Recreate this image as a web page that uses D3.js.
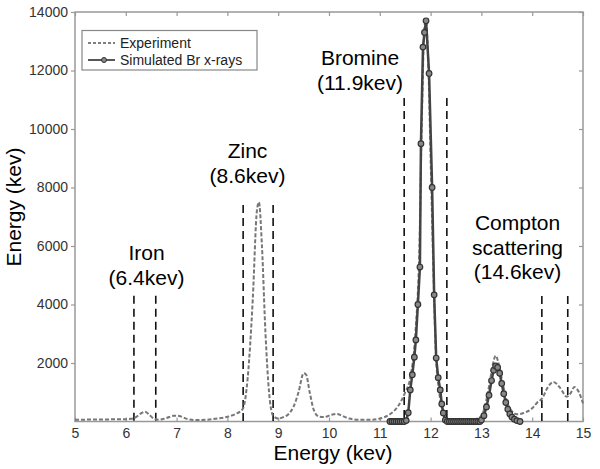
<!DOCTYPE html>
<html>
<head>
<meta charset="utf-8">
<script src="https://d3js.org/d3.v7.min.js"></script>
<style>
  body { margin: 0; background: #fff; }
  svg { font-family: "Liberation Sans", Arial, sans-serif; }
</style>
</head>
<body>
<svg width="600" height="469"></svg>
<script>
// measured spectrum (dashed)
var expX = [5.0, 5.5, 6.0, 6.1, 6.2, 6.3, 6.38, 6.45, 6.55, 6.65, 6.8, 6.95, 7.05, 7.2, 7.4, 7.6, 7.8, 8.0, 8.15, 8.3,
  8.4, 8.5, 8.58, 8.62, 8.68, 8.75, 8.82, 8.9, 9.0, 9.1, 9.2, 9.3, 9.4, 9.5, 9.55, 9.62, 9.7, 9.8, 9.9, 10.05,
  10.15, 10.25, 10.4, 10.6, 10.8, 11.0, 11.2, 11.35, 11.5, 11.6, 11.7, 11.78, 11.83, 11.88, 11.91, 11.95, 12.0, 12.05, 12.1, 12.17,
  12.25, 12.32, 12.5, 12.8, 12.95, 13.05, 13.15, 13.22, 13.28, 13.35, 13.42, 13.5, 13.6, 13.7, 13.85, 14.0, 14.1, 14.2, 14.3, 14.42,
  14.55, 14.68, 14.75, 14.83, 14.92, 15.0];
var expY = [60, 70, 80, 90, 150, 280, 330, 250, 100, 60, 120, 200, 190, 90, 50, 60, 100, 160, 250, 420,
  1500, 4200, 7200, 7500, 6000, 3000, 1000, 200, 100, 150, 250, 500, 1000, 1650, 1600, 1000, 400, 170, 150, 230,
  260, 200, 100, 60, 60, 100, 250, 500, 1000, 1500, 3000, 6000, 10500, 13500, 13700, 12500, 9000, 5500, 2500, 1000,
  300, 100, 50, 60, 120, 400, 1200, 1900, 2250, 1900, 1300, 700, 350, 250, 300, 450, 650, 800, 1150, 1350,
  1150, 850, 950, 1180, 1000, 620];

// simulated Br x-rays (solid with circles)
var simX = [11.2, 11.24, 11.28, 11.32, 11.36, 11.4, 11.44, 11.48, 11.52, 11.56, 11.6, 11.64, 11.68, 11.71, 11.75, 11.79, 11.81, 11.85, 11.88, 11.91,
  11.97, 12.03, 12.07, 12.11, 12.15, 12.19, 12.22, 12.25, 12.29, 12.33, 12.37, 12.41, 12.45, 12.49, 12.53, 12.57, 12.61, 12.65, 12.69, 12.73,
  12.77, 12.81, 12.85, 12.89, 12.93, 12.97, 13.0, 13.05, 13.1, 13.15, 13.2, 13.24, 13.28, 13.32, 13.36, 13.4, 13.44, 13.48, 13.52, 13.56,
  13.6, 13.65, 13.7, 13.76];
var simY = [0, 0, 0, 0, 0, 0, 0, 0, 30, 300, 1080, 1600, 2200, 2790, 4000, 5280, 9500, 12800, 13300, 13700,
  11900, 8000, 4330, 2170, 1500, 1080, 600, 290, 50, 0, 0, 0, 0, 0, 0, 0, 0, 0, 0, 0,
  0, 0, 0, 0, 0, 0, 50, 200, 500, 900, 1400, 1750, 1900, 1850, 1650, 1300, 950, 650, 420, 260,
  150, 80, 30, 0];

// window markers and labels
var windows = [
  {lo: 6.16, hi: 6.59, top: 4300, x: 146.5, lines: ["Iron", "(6.4kev)"], y0: 260},
  {lo: 8.31, hi: 8.90, top: 7400, x: 247.5, lines: ["Zinc", "(8.6kev)"], y0: 158},
  {lo: 11.48, hi: 12.32, top: 11060, x: 360, lines: ["Bromine", "(11.9kev)"], y0: 65},
  {lo: 14.19, hi: 14.70, top: 4290, x: 517.5, lines: ["Compton", "scattering", "(14.6kev)"], y0: 230}
];

var xTicks = [5, 6, 7, 8, 9, 10, 11, 12, 13, 14, 15];
var yTicks = [2000, 4000, 6000, 8000, 10000, 12000, 14000];

var svg = d3.select("svg");
var pLeft = 75, pRight = 583, pTop = 12, pBottom = 421.5;

var x = d3.scaleLinear().domain([5, 15]).range([pLeft, pRight]);
var y = d3.scaleLinear().domain([0, 14000]).range([pBottom, pTop]);

svg.append("rect").attr("width", 600).attr("height", 469).attr("fill", "#fff");

// frame + ticks
var axisCol = "#999";
svg.append("rect")
    .attr("x", pLeft).attr("y", pTop)
    .attr("width", pRight - pLeft).attr("height", pBottom - pTop)
    .attr("fill", "none").attr("stroke", axisCol).attr("stroke-width", 1.5);

var gx = svg.append("g").attr("transform", "translate(0," + pBottom + ")")
    .call(d3.axisBottom(x).tickValues(xTicks).tickSize(-4).tickPadding(7));
var gxt = svg.append("g").attr("transform", "translate(0," + pTop + ")")
    .call(d3.axisTop(x).tickValues(xTicks).tickSize(-4).tickFormat(""));
var gy = svg.append("g").attr("transform", "translate(" + pLeft + ",0)")
    .call(d3.axisLeft(y).tickValues(yTicks).tickSize(4).tickPadding(3).tickFormat(d3.format("d")));
var gyr = svg.append("g").attr("transform", "translate(" + pRight + ",0)")
    .call(d3.axisRight(y).tickValues(yTicks).tickSize(-4).tickFormat(""));

[gx, gxt, gy, gyr].forEach(function(g) {
  g.select(".domain").remove();
  g.selectAll(".tick line").attr("stroke", axisCol).attr("stroke-width", 1.2);
  g.selectAll(".tick text")
      .attr("fill", "#333")
      .style("font-size", "14px")
      .style("font-family", "Liberation Sans, Arial, sans-serif");
});

// vertical window lines
windows.forEach(function(w) {
  [w.lo, w.hi].forEach(function(v) {
    svg.append("line")
        .attr("x1", x(v)).attr("x2", x(v))
        .attr("y1", y(w.top)).attr("y2", y(0))
        .attr("stroke", "#111").attr("stroke-width", 1.6)
        .attr("stroke-dasharray", "8,5");
  });
  w.lines.forEach(function(t, i) {
    svg.append("text")
        .attr("x", w.x).attr("y", w.y0 + i * 24.5)
        .attr("text-anchor", "middle")
        .style("font-size", "21px")
        .attr("fill", "#000")
        .text(t);
  });
});

var line = d3.line()
    .x(function(d) { return x(d[0]); })
    .y(function(d) { return y(d[1]); });

var expData = d3.zip(expX, expY);
var simData = d3.zip(simX, simY);

svg.append("path")
    .datum(expData)
    .attr("d", line.curve(d3.curveMonotoneX))
    .attr("fill", "none")
    .attr("stroke", "#777")
    .attr("stroke-width", 2)
    .attr("stroke-dasharray", "4,2");

svg.append("path")
    .datum(simData)
    .attr("d", line.curve(d3.curveLinear))
    .attr("fill", "none")
    .attr("stroke", "#444")
    .attr("stroke-width", 2.5);

svg.selectAll(".mk")
    .data(simData)
    .enter().append("circle")
      .attr("class", "mk")
      .attr("cx", function(d) { return x(d[0]); })
      .attr("cy", function(d) { return y(d[1]); })
      .attr("r", 2.8)
      .attr("fill", "#888")
      .attr("stroke", "#333")
      .attr("stroke-width", 1.2);

// legend
var lg = svg.append("g");
lg.append("rect")
    .attr("x", 82).attr("y", 30.5).attr("width", 175).attr("height", 39.5)
    .attr("fill", "#fff").attr("stroke", "#888").attr("stroke-width", 1.2);
lg.append("line")
    .attr("x1", 88).attr("x2", 115).attr("y1", 43).attr("y2", 43)
    .attr("stroke", "#555").attr("stroke-width", 1.5).attr("stroke-dasharray", "3,2");
lg.append("text").attr("x", 120).attr("y", 47.5)
    .style("font-size", "14px").attr("fill", "#222").text("Experiment");
lg.append("line")
    .attr("x1", 88).attr("x2", 115).attr("y1", 60).attr("y2", 60)
    .attr("stroke", "#444").attr("stroke-width", 1.8);
lg.append("circle")
    .attr("cx", 104).attr("cy", 60).attr("r", 2.5)
    .attr("fill", "#888").attr("stroke", "#333");
lg.append("text").attr("x", 120).attr("y", 65)
    .style("font-size", "14px").attr("fill", "#222").text("Simulated Br x-rays");

// axis titles
svg.append("text")
    .attr("x", 333).attr("y", 460)
    .attr("text-anchor", "middle")
    .style("font-size", "21px")
    .text("Energy (kev)");
svg.append("text")
    .attr("transform", "translate(21,207) rotate(-90)")
    .attr("text-anchor", "middle")
    .style("font-size", "21px")
    .text("Energy (kev)");
</script>
</body>
</html>
